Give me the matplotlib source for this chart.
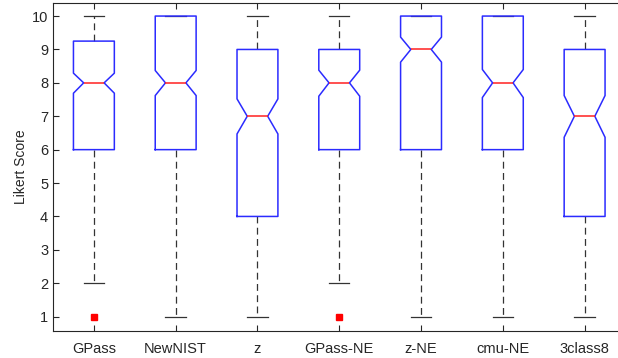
import matplotlib
matplotlib.use("Agg")
import matplotlib.pyplot as plt

categories = ["GPass", "NewNIST", "z", "GPass-NE", "z-NE", "cmu-NE", "3class8"]
medians   = [8, 8, 7, 8, 9, 8, 7]
q1        = [6, 6, 4, 6, 6, 6, 4]
q3        = [9.25, 10, 9, 9, 10, 10, 9]
whis_lo   = [2, 1, 1, 2, 1, 1, 1]
whis_hi   = [10, 10, 10, 10, 10, 10, 10]
notch_lo  = [7.69, 7.62, 6.47, 7.60, 8.62, 7.56, 6.37]
notch_hi  = [8.29, 8.37, 7.52, 8.38, 9.37, 8.40, 7.62]
outliers  = [[1], [], [], [1], [], [], []]
y_ticks   = [1, 2, 3, 4, 5, 6, 7, 8, 9, 10]

plt.rcParams['font.family'] = ['Liberation Sans', 'DejaVu Sans']

fig = plt.figure(figsize=(6.18, 3.58), dpi=100)
ax = fig.add_axes([53/618, 1-331/358, (625.5-53)/618, (331-2.7)/358])

stats = []
for i, c in enumerate(categories):
    stats.append(dict(label=c, med=medians[i], q1=q1[i], q3=q3[i],
                      whislo=whis_lo[i], whishi=whis_hi[i],
                      cilo=notch_lo[i], cihi=notch_hi[i], fliers=outliers[i]))

positions = list(range(1, len(categories) + 1))
ax.bxp(stats, positions=positions, widths=0.5, capwidths=0.25, shownotches=True,
       boxprops=dict(color='#2b2bff', linewidth=1.1, zorder=3),
       medianprops=dict(color='#ff2020', linewidth=1.1, zorder=3),
       whiskerprops=dict(color='#333333', linewidth=0.9, linestyle=(0, (5.5, 3.5)), zorder=2),
       capprops=dict(color='#333333', linewidth=0.9, zorder=1),
       flierprops=dict(marker='s', markerfacecolor='red', markeredgecolor='red',
                       markersize=4.5, linestyle='none'))

ax.set_xlim(0.5, 7.5)
ax.set_ylim(0.57, 10.40)
ax.set_yticks(y_ticks)
ax.set_xticks(positions)
ax.set_xticklabels(categories)
ax.set_ylabel("Likert Score", fontsize=10, color='#262626', labelpad=3)

for s in ax.spines.values():
    s.set_color('#262626')
    s.set_linewidth(0.8)
ax.tick_params(direction='in', length=4, width=0.8, color='#262626',
               labelcolor='#262626', labelsize=10.5, top=True, right=True)
ax.tick_params(axis='x', pad=8)

fig.savefig("out.png", dpi=100)
